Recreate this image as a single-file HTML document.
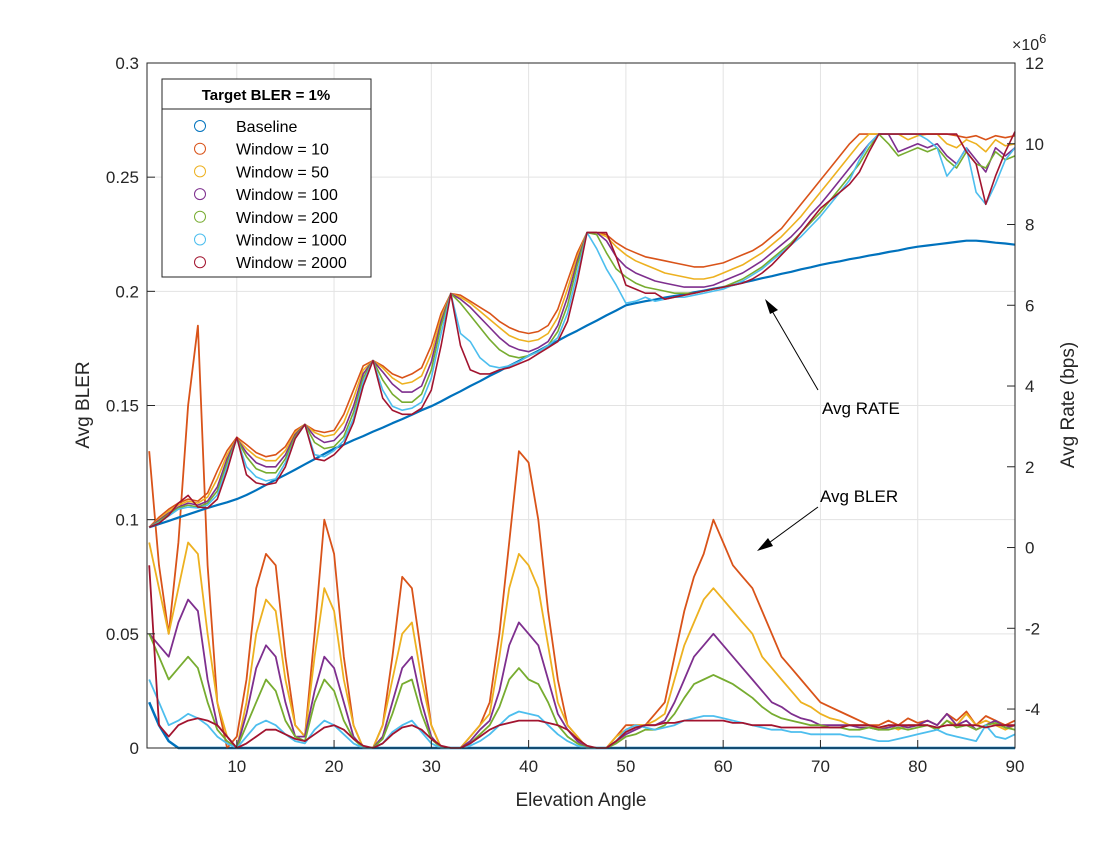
<!DOCTYPE html>
<html><head><meta charset="utf-8"><style>
body{margin:0;background:#fff;}
svg text{font-family:"Liberation Sans",Arial,sans-serif;}
</style></head><body>
<svg id="chart" width="1120" height="840" xmlns="http://www.w3.org/2000/svg"></svg>
<script>
const xs = Array.from({length:90},(_,i)=>i+1);
const seriesNames = ["Baseline","Window = 10","Window = 50","Window = 100","Window = 200","Window = 1000","Window = 2000"];
const xTicks = [10,20,30,40,50,60,70,80,90];
const leftTicks = [0,0.05,0.1,0.15,0.2,0.25,0.3];
const leftTickLabels = ["0","0.05","0.1","0.15","0.2","0.25","0.3"];
const rightTicks = [-4,-2,0,2,4,6,8,10,12];

const rateBase = [0.5,0.58,0.66,0.74,0.82,0.9,0.98,1.05,1.12,1.2,
1.3,1.42,1.55,1.68,1.8,1.93,2.06,2.19,2.32,2.45,
2.55,2.66,2.76,2.87,2.97,3.08,3.18,3.29,3.4,3.5,
3.62,3.75,3.87,4.0,4.12,4.25,4.37,4.5,4.62,4.75,
4.87,5.0,5.12,5.25,5.37,5.5,5.62,5.75,5.87,6.0,
6.05,6.1,6.14,6.19,6.23,6.27,6.32,6.36,6.41,6.45,
6.5,6.56,6.61,6.67,6.72,6.78,6.83,6.89,6.94,7.0,
7.05,7.09,7.14,7.18,7.23,7.27,7.32,7.36,7.41,7.45,
7.48,7.51,7.54,7.57,7.6,7.6,7.58,7.55,7.53,7.5];
const rateW10 = [0.5,0.75,0.95,1.1,1.2,1.15,1.35,1.9,2.4,2.73,
2.55,2.35,2.25,2.3,2.5,2.9,3.05,2.9,2.85,2.9,
3.3,3.9,4.5,4.63,4.5,4.3,4.2,4.3,4.45,5.0,
5.8,6.29,6.25,6.1,5.95,5.8,5.6,5.45,5.35,5.3,
5.35,5.5,5.9,6.6,7.3,7.8,7.8,7.75,7.55,7.4,
7.3,7.2,7.15,7.1,7.05,7.0,6.95,6.95,7.0,7.05,
7.15,7.25,7.35,7.5,7.7,7.9,8.2,8.5,8.8,9.1,
9.4,9.7,10.0,10.24,10.24,10.24,10.24,10.24,10.24,10.24,
10.24,10.24,10.24,10.2,10.15,10.2,10.1,10.2,10.15,10.2];
const rateW50 = [0.5,0.7,0.9,1.05,1.15,1.1,1.25,1.7,2.3,2.7,
2.45,2.25,2.15,2.15,2.4,2.85,3.05,2.85,2.75,2.8,
3.1,3.7,4.4,4.63,4.45,4.2,4.05,4.1,4.25,4.8,
5.7,6.29,6.2,6.05,5.85,5.65,5.45,5.25,5.15,5.1,
5.15,5.3,5.7,6.4,7.2,7.8,7.8,7.7,7.45,7.25,
7.1,7.0,6.9,6.8,6.75,6.7,6.65,6.65,6.7,6.8,
6.9,7.0,7.15,7.3,7.5,7.7,7.95,8.2,8.5,8.8,
9.1,9.4,9.7,10.0,10.24,10.24,10.24,10.24,10.1,10.2,
10.24,10.24,10.0,9.9,10.1,10.0,9.8,10.1,9.95,10.0];
const rateW100 = [0.5,0.68,0.85,1.0,1.1,1.05,1.15,1.5,2.2,2.7,
2.35,2.1,2.0,2.0,2.3,2.8,3.05,2.75,2.6,2.65,
2.9,3.5,4.3,4.63,4.35,4.05,3.85,3.85,4.0,4.6,
5.6,6.29,6.15,5.95,5.7,5.45,5.2,5.0,4.9,4.85,
4.95,5.1,5.5,6.2,7.1,7.8,7.8,7.6,7.2,6.95,
6.8,6.7,6.6,6.55,6.5,6.45,6.45,6.45,6.5,6.6,
6.7,6.8,6.95,7.1,7.3,7.5,7.7,7.95,8.25,8.5,
8.8,9.1,9.4,9.7,10.0,10.24,10.24,9.8,9.9,10.0,
9.9,10.0,9.7,9.5,9.9,9.6,9.3,9.9,9.7,9.9];
const rateW200 = [0.5,0.65,0.82,0.98,1.05,1.0,1.1,1.4,2.1,2.7,
2.25,1.95,1.85,1.85,2.2,2.75,3.05,2.6,2.45,2.5,
2.75,3.35,4.2,4.63,4.15,3.8,3.6,3.6,3.8,4.4,
5.5,6.29,6.05,5.75,5.45,5.15,4.9,4.75,4.7,4.75,
4.85,5.0,5.35,6.0,7.0,7.8,7.75,7.3,6.9,6.7,
6.55,6.45,6.4,6.35,6.3,6.3,6.3,6.35,6.4,6.45,
6.55,6.65,6.8,6.95,7.15,7.35,7.55,7.8,8.05,8.3,
8.6,8.9,9.2,9.5,9.9,10.24,10.0,9.7,9.8,9.9,
9.8,9.9,9.6,9.4,9.8,9.5,9.4,9.8,9.6,9.7];
const rateW1000 = [0.5,0.62,0.78,0.95,1.0,0.98,1.05,1.3,2.0,2.7,
2.0,1.75,1.65,1.7,2.1,2.7,3.05,2.3,2.25,2.4,
2.65,3.2,4.1,4.63,3.9,3.5,3.4,3.45,3.6,4.2,
5.3,6.29,5.3,5.1,4.7,4.5,4.45,4.5,4.6,4.75,
4.85,5.0,5.2,5.8,6.8,7.8,7.4,6.9,6.5,6.05,
6.1,6.2,6.1,6.15,6.2,6.2,6.25,6.3,6.35,6.4,
6.5,6.6,6.75,6.9,7.1,7.3,7.5,7.7,7.95,8.2,
8.5,8.8,9.1,9.6,10.0,10.24,10.24,10.24,10.24,10.24,
10.1,9.9,9.2,9.5,9.9,8.8,8.5,9.0,9.6,9.9];
const rateW2000 = [0.5,0.6,0.8,1.1,1.29,1.0,0.98,1.2,1.9,2.73,
1.8,1.6,1.55,1.6,2.0,2.7,3.05,2.2,2.15,2.3,
2.55,3.1,4.0,4.63,3.7,3.4,3.3,3.3,3.45,3.9,
5.0,6.29,5.0,4.4,4.3,4.3,4.4,4.45,4.55,4.65,
4.8,4.95,5.1,5.6,6.6,7.8,7.8,7.8,7.2,6.5,
6.4,6.3,6.3,6.15,6.2,6.25,6.3,6.35,6.4,6.45,
6.5,6.55,6.65,6.8,7.0,7.25,7.5,7.8,8.1,8.4,
8.6,8.8,9.0,9.3,9.8,10.24,10.24,10.24,10.24,10.24,
10.24,10.24,10.24,10.24,9.8,9.5,8.5,9.2,9.8,10.3];

const blerBase = [0.02,0.01,0.003,0,0,0,0,0,0,0,0,0,0,0,0,0,0,0,0,0,0,0,0,0,0,0,0,0,0,0,0,0,0,0,0,0,0,0,0,0,0,0,0,0,0,0,0,0,0,0,0,0,0,0,0,0,0,0,0,0,0,0,0,0,0,0,0,0,0,0,0,0,0,0,0,0,0,0,0,0,0,0,0,0,0,0,0,0,0,0];
const blerW10 = [0.13,0.08,0.05,0.09,0.15,0.185,0.08,0.02,0.0,0.005,
0.03,0.07,0.085,0.08,0.04,0.01,0.005,0.05,0.1,0.085,
0.04,0.01,0,0,0.01,0.04,0.075,0.07,0.04,0.01,
0,0,0,0.005,0.01,0.02,0.05,0.09,0.13,0.125,
0.10,0.06,0.03,0.01,0.005,0,0,0,0.005,0.01,
0.01,0.01,0.015,0.02,0.04,0.06,0.075,0.085,0.1,0.09,
0.08,0.075,0.07,0.06,0.05,0.04,0.035,0.03,0.025,0.02,
0.018,0.016,0.014,0.012,0.01,0.01,0.012,0.01,0.013,0.011,
0.012,0.01,0.015,0.012,0.016,0.01,0.014,0.012,0.01,0.012];
const blerW50 = [0.09,0.07,0.05,0.07,0.09,0.085,0.05,0.02,0.005,0.0,
0.02,0.05,0.065,0.06,0.03,0.01,0.005,0.04,0.07,0.06,
0.03,0.01,0,0,0.01,0.03,0.05,0.055,0.03,0.01,
0,0,0,0.005,0.01,0.015,0.04,0.07,0.085,0.08,
0.07,0.045,0.02,0.01,0.005,0,0,0,0.005,0.008,
0.01,0.01,0.012,0.015,0.03,0.045,0.055,0.065,0.07,0.065,
0.06,0.055,0.05,0.04,0.035,0.03,0.025,0.02,0.018,0.015,
0.013,0.012,0.01,0.01,0.01,0.008,0.01,0.008,0.01,0.01,
0.01,0.008,0.012,0.01,0.015,0.01,0.012,0.01,0.008,0.01];
const blerW100 = [0.05,0.045,0.04,0.055,0.065,0.06,0.03,0.01,0.005,0,
0.015,0.035,0.045,0.04,0.02,0.005,0.005,0.025,0.04,0.035,
0.02,0.005,0,0,0.005,0.02,0.035,0.04,0.02,0.005,
0,0,0,0.003,0.008,0.012,0.025,0.045,0.055,0.05,
0.045,0.03,0.015,0.008,0.003,0,0,0,0.003,0.006,
0.008,0.01,0.01,0.012,0.02,0.03,0.04,0.045,0.05,0.045,
0.04,0.035,0.03,0.025,0.02,0.018,0.015,0.013,0.012,0.01,
0.01,0.01,0.01,0.009,0.009,0.008,0.009,0.01,0.009,0.01,
0.012,0.01,0.015,0.01,0.012,0.008,0.01,0.012,0.009,0.01];
const blerW200 = [0.05,0.04,0.03,0.035,0.04,0.035,0.02,0.008,0.003,0,
0.01,0.02,0.03,0.025,0.012,0.005,0.003,0.02,0.03,0.025,
0.012,0.004,0,0,0.004,0.015,0.028,0.03,0.015,0.004,
0,0,0,0.002,0.006,0.01,0.018,0.03,0.035,0.03,
0.028,0.02,0.01,0.005,0.002,0,0,0,0.002,0.005,
0.006,0.008,0.008,0.01,0.015,0.022,0.028,0.03,0.032,0.03,
0.028,0.025,0.022,0.018,0.015,0.013,0.012,0.011,0.01,0.01,
0.009,0.009,0.008,0.008,0.009,0.008,0.008,0.009,0.008,0.009,
0.01,0.008,0.012,0.009,0.01,0.008,0.01,0.011,0.009,0.008];
const blerW1000 = [0.03,0.02,0.01,0.012,0.015,0.013,0.01,0.005,0.002,0,
0.005,0.01,0.012,0.01,0.006,0.003,0.002,0.008,0.012,0.01,
0.006,0.002,0,0,0.002,0.007,0.01,0.012,0.007,0.002,
0,0,0,0.001,0.003,0.006,0.01,0.014,0.016,0.015,
0.014,0.01,0.006,0.003,0.001,0,0,0,0.003,0.008,
0.01,0.009,0.008,0.009,0.01,0.012,0.013,0.014,0.014,0.013,
0.012,0.011,0.01,0.009,0.008,0.008,0.007,0.007,0.006,0.006,
0.006,0.006,0.005,0.005,0.004,0.003,0.003,0.004,0.005,0.006,
0.007,0.008,0.006,0.005,0.004,0.003,0.01,0.005,0.004,0.006];
const blerW2000 = [0.08,0.01,0.005,0.01,0.012,0.013,0.012,0.01,0.005,0,
0.002,0.005,0.008,0.008,0.006,0.004,0.003,0.006,0.009,0.01,
0.008,0.004,0.001,0,0.002,0.006,0.009,0.01,0.008,0.004,
0.001,0,0,0.002,0.005,0.008,0.01,0.011,0.012,0.012,
0.012,0.011,0.01,0.008,0.004,0.001,0,0,0.003,0.007,
0.009,0.01,0.01,0.011,0.011,0.012,0.012,0.012,0.012,0.012,
0.011,0.011,0.01,0.01,0.01,0.009,0.009,0.009,0.009,0.009,
0.009,0.009,0.01,0.01,0.01,0.009,0.01,0.01,0.01,0.01,
0.01,0.009,0.01,0.01,0.01,0.01,0.009,0.01,0.01,0.01];

const colors = ["#0072BD","#D95319","#EDB120","#7E2F8E","#77AC30","#4DBEEE","#A2142F"];
const L=147,R=1015,T=63,B=748;
const xMin=0.77,xMax=90, yMin=0,yMax=0.3, rMin=-4.965,rMax=12;
const xS=v=>L+(v-xMin)/(xMax-xMin)*(R-L);
const yS=v=>B-(v-yMin)/(yMax-yMin)*(B-T);
const rS=v=>B-(v-rMin)/(rMax-rMin)*(B-T);
const svg=document.getElementById('chart');
const NS="http://www.w3.org/2000/svg";
function mk(tag,attrs,parent){const e=document.createElementNS(NS,tag);for(const k in attrs)e.setAttribute(k,attrs[k]);(parent||svg).appendChild(e);return e;}

const grid=mk('g',{});


xTicks.forEach(t=>{mk('line',{x1:xS(t),x2:xS(t),y1:T,y2:B,stroke:'#e3e3e3','stroke-width':1},grid);});
leftTicks.forEach(t=>{mk('line',{x1:L,x2:R,y1:yS(t),y2:yS(t),stroke:'#e3e3e3','stroke-width':1},grid);});

function line(xv,yv,sc,color,name,w){
  const d=xv.map((x,i)=>(i?'L':'M')+xS(x).toFixed(1)+','+sc(yv[i]).toFixed(1)).join(' ');
  const p=mk('path',{d:d,fill:'none',stroke:color,'stroke-width':w,'stroke-linejoin':'round'});
  
  
}
const blers=[blerBase,blerW10,blerW50,blerW100,blerW200,blerW1000,blerW2000];
const rates=[rateBase,rateW10,rateW50,rateW100,rateW200,rateW1000,rateW2000];
const tags=["baseline","window-10","window-50","window-100","window-200","window-1000","window-2000"];
blers.forEach((s,i)=>line(xs,s,yS,colors[i],'bler-line-'+tags[i],i==0?2.5:1.8));
rates.forEach((s,i)=>line(xs,s,rS,colors[i],'rate-line-'+tags[i],i==0?2.2:1.6));

const ax=mk('g',{});


mk('rect',{x:L,y:T,width:R-L,height:B-T,fill:'none',stroke:'#262626','stroke-width':1},ax);
xTicks.forEach(t=>{
  mk('line',{x1:xS(t),x2:xS(t),y1:B,y2:B-8,stroke:'#262626'},ax);
  const tx=mk('text',{x:xS(t),y:B+24,'text-anchor':'middle','font-size':17,fill:'#262626'},ax);tx.textContent=t;
  
  
});
leftTicks.forEach((t,i)=>{
  mk('line',{x1:L,x2:L+8,y1:yS(t),y2:yS(t),stroke:'#262626'},ax);
  const tx=mk('text',{x:L-8,y:yS(t)+6,'text-anchor':'end','font-size':17,fill:'#262626'},ax);tx.textContent=leftTickLabels[i];
  
  
});
rightTicks.forEach(t=>{
  mk('line',{x1:R,x2:R-8,y1:rS(t),y2:rS(t),stroke:'#262626'},ax);
  const tx=mk('text',{x:R+10,y:rS(t)+6,'text-anchor':'start','font-size':17,fill:'#262626'},ax);tx.textContent=t;
  
  
});
</script>
<svg width="1120" height="840" style="position:absolute;left:0;top:0" xmlns="http://www.w3.org/2000/svg">
  <text x="1012" y="50" font-size="16" fill="#262626" font-family="Liberation Sans, sans-serif">×10<tspan dy="-7" font-size="13">6</tspan></text>
  <text x="581" y="806" font-size="19" text-anchor="middle" fill="#262626" font-family="Liberation Sans, sans-serif">Elevation Angle</text>
  <text transform="translate(89,405) rotate(-90)" font-size="19" text-anchor="middle" fill="#262626" font-family="Liberation Sans, sans-serif">Avg BLER</text>
  <text transform="translate(1074,405) rotate(-90)" font-size="19" text-anchor="middle" fill="#262626" font-family="Liberation Sans, sans-serif">Avg Rate (bps)</text>
  <g>
    <line x1="818" y1="390" x2="768" y2="304" stroke="#000" stroke-width="1"/>
    <polygon points="765,299 778,310 770,314" fill="#000"/>
    <text x="822" y="414" font-size="17" fill="#000" font-family="Liberation Sans, sans-serif">Avg RATE</text>
  </g>
  <g>
    <line x1="818" y1="507" x2="762" y2="548" stroke="#000" stroke-width="1"/>
    <polygon points="757,551 768,538 773,546" fill="#000"/>
    <text x="820" y="502" font-size="17" fill="#000" font-family="Liberation Sans, sans-serif">Avg BLER</text>
  </g>
  <g font-family="Liberation Sans, sans-serif">
    <rect x="162" y="79" width="209" height="198" fill="#fff" stroke="#262626" stroke-width="1"/>
    <line x1="162" y1="109" x2="371" y2="109" stroke="#262626"/>
    <text x="266" y="100" font-size="15" font-weight="bold" text-anchor="middle" fill="#000">Target BLER = 1%</text>
    <g><circle cx="200" cy="126" r="5.5" fill="none" stroke="#0072BD"/><text x="236" y="132" font-size="16" fill="#000">Baseline</text></g>
    <g><circle cx="200" cy="148.7" r="5.5" fill="none" stroke="#D95319"/><text x="236" y="154.7" font-size="16" fill="#000">Window = 10</text></g>
    <g><circle cx="200" cy="171.4" r="5.5" fill="none" stroke="#EDB120"/><text x="236" y="177.4" font-size="16" fill="#000">Window = 50</text></g>
    <g><circle cx="200" cy="194.1" r="5.5" fill="none" stroke="#7E2F8E"/><text x="236" y="200.1" font-size="16" fill="#000">Window = 100</text></g>
    <g><circle cx="200" cy="216.8" r="5.5" fill="none" stroke="#77AC30"/><text x="236" y="222.8" font-size="16" fill="#000">Window = 200</text></g>
    <g><circle cx="200" cy="239.5" r="5.5" fill="none" stroke="#4DBEEE"/><text x="236" y="245.5" font-size="16" fill="#000">Window = 1000</text></g>
    <g><circle cx="200" cy="262.2" r="5.5" fill="none" stroke="#A2142F"/><text x="236" y="268.2" font-size="16" fill="#000">Window = 2000</text></g>
  </g>
</svg>
</body></html>
